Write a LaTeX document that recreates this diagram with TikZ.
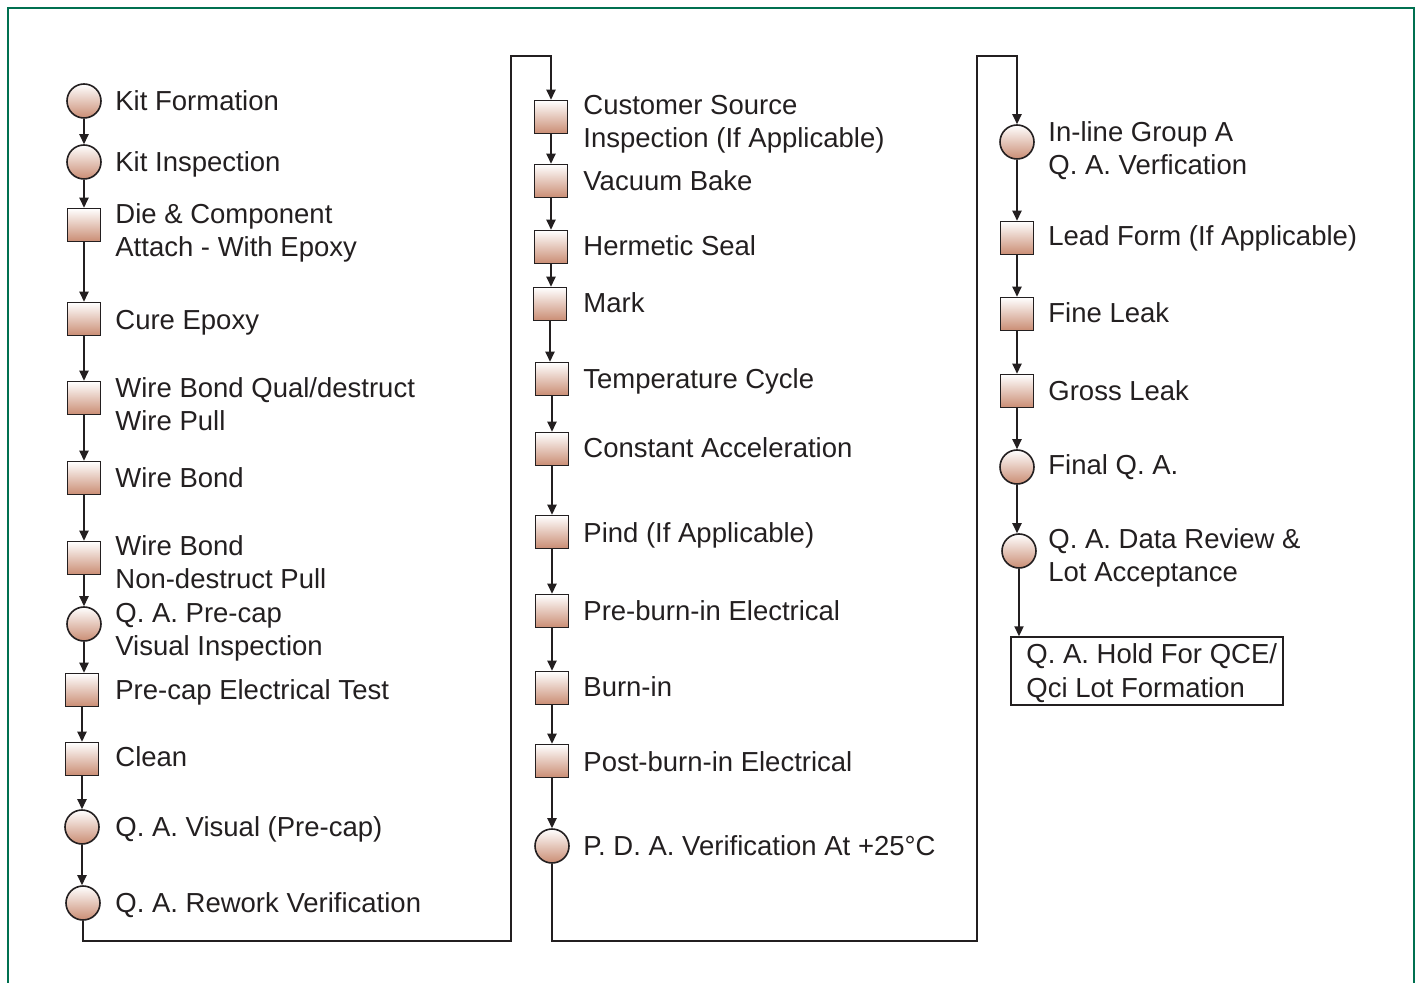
\documentclass[tikz,border=0pt]{standalone}
\usepackage{fontspec}
\setmainfont{Liberation Sans}
\usetikzlibrary{arrows.meta}
\definecolor{framegreen}{RGB}{0,112,80}
\definecolor{shadetan}{RGB}{196,128,100}
\definecolor{ink}{RGB}{35,31,32}
\begin{document}
\begin{tikzpicture}[x=0.5pt,y=-0.5pt,
  shp/.style={draw=ink, line width=0.8pt, shading angle=45, top color=white, middle color=shadetan!22, bottom color=shadetan!90, inner sep=0pt},
  circ/.style={shp, circle, minimum size=17pt},
  sq/.style={shp, rectangle, minimum size=16.5pt},
  lbl/.style={anchor=west, inner sep=0pt, align=left, text=ink, text depth=0pt,
    font=\fontsize{13.75pt}{16.5pt}\selectfont},
  conn/.style={draw=ink, line width=0.75pt, -{Triangle[length=5pt,width=4.6pt]}},
]
\useasboundingbox (0,0) rectangle (1423,983);
\draw[framegreen, line width=1pt] (8,983) -- (8,8) -- (1414,8) -- (1414,983);

% column 1
\node[circ] (a1) at (84,101) {};  \node[lbl] (la1) at (115,101) {Kit Formation};
\node[circ] (a2) at (84,162) {};  \node[lbl] (la2) at (115,162) {Kit Inspection};
\node[sq] (a3) at (84,225) {};    \node[lbl] (la3) at (115,230.5) {Die \& Component\\Attach - With Epoxy};
\node[sq] (a4) at (84,319) {};    \node[lbl] (la4) at (115,320) {Cure Epoxy};
\node[sq] (a5) at (84,398) {};    \node[lbl] (la5) at (115,404.5) {Wire Bond Qual/destruct\\Wire Pull};
\node[sq] (a6) at (84,478) {};    \node[lbl] (la6) at (115,478) {Wire Bond};
\node[sq] (a7) at (84,558) {};    \node[lbl] (la7) at (115,562.5) {Wire Bond\\Non-destruct Pull};
\node[circ] (a8) at (84,624) {};  \node[lbl] (la8) at (115,629.5) {Q. A. Pre-cap\\Visual Inspection};
\node[sq] (a9) at (82,690) {};    \node[lbl] (la9) at (115,690) {Pre-cap Electrical Test};
\node[sq] (a10) at (82,759) {};   \node[lbl] (la10) at (115,757) {Clean};
\node[circ] (a11) at (82,827) {}; \node[lbl] (la11) at (115,827) {Q. A. Visual (Pre-cap)};
\node[circ] (a12) at (83,903) {}; \node[lbl] (la12) at (115,903) {Q. A. Rework Verification};

% column 2
\node[sq] (b1) at (551,117) {};   \node[lbl] (lb1) at (583,121.5) {Customer Source\\Inspection (If Applicable)};
\node[sq] (b2) at (551,181) {};   \node[lbl] (lb2) at (583,181) {Vacuum Bake};
\node[sq] (b3) at (551,247) {};   \node[lbl] (lb3) at (583,246) {Hermetic Seal};
\node[sq] (b4) at (550,304) {};   \node[lbl] (lb4) at (583,303) {Mark};
\node[sq] (b5) at (552,379) {};   \node[lbl] (lb5) at (583,379) {Temperature Cycle};
\node[sq] (b6) at (552,449) {};   \node[lbl] (lb6) at (583,448) {Constant Acceleration};
\node[sq] (b7) at (552,532) {};   \node[lbl] (lb7) at (583,533) {Pind (If Applicable)};
\node[sq] (b8) at (552,611) {};   \node[lbl] (lb8) at (583,611) {Pre-burn-in Electrical};
\node[sq] (b9) at (552,688) {};   \node[lbl] (lb9) at (583,687) {Burn-in};
\node[sq] (b10) at (552,761) {};  \node[lbl] (lb10) at (583,762) {Post-burn-in Electrical};
\node[circ] (b11) at (552,846) {};\node[lbl] (lb11) at (583,846) {P. D. A. Verification At +25°C};

% column 3
\node[circ] (c1) at (1017,142) {};  \node[lbl] (lc1) at (1048,148.5) {In-line Group A\\Q. A. Verfication};
\node[sq] (c2) at (1017,238) {};    \node[lbl] (lc2) at (1048,236) {Lead Form (If Applicable)};
\node[sq] (c3) at (1017,314) {};    \node[lbl] (lc3) at (1048,313) {Fine Leak};
\node[sq] (c4) at (1017,391) {};    \node[lbl] (lc4) at (1048,391) {Gross Leak};
\node[circ] (c5) at (1017,467) {};  \node[lbl] (lc5) at (1048,465) {Final Q. A.};
\node[circ] (c6) at (1019,551) {};  \node[lbl] (lc6) at (1048,555.5) {Q. A. Data Review \&\\Lot Acceptance};
\node[draw=ink, line width=0.75pt, inner sep=0pt, minimum width=136pt, minimum height=34pt] (box) at (1147,671) {};
\node[lbl, font=\fontsize{13.75pt}{17pt}\selectfont] (lbox) at (1026,671) {Q. A. Hold For QCE/\\Qci Lot Formation};

% connectors column 1
\foreach \u/\v in {a1/a2,a2/a3,a3/a4,a4/a5,a5/a6,a6/a7,a7/a8,a8/a9,a9/a10,a10/a11,a11/a12}
  \draw[conn] (\u.south) -- (\u.south |- \v.north);
% connectors column 2
\foreach \u/\v in {b1/b2,b2/b3,b3/b4,b4/b5,b5/b6,b6/b7,b7/b8,b8/b9,b9/b10,b10/b11}
  \draw[conn] (\u.south) -- (\u.south |- \v.north);
% connectors column 3
\foreach \u/\v in {c1/c2,c2/c3,c3/c4,c4/c5,c5/c6}
  \draw[conn] (\u.south) -- (\u.south |- \v.north);
\draw[conn] (c6.south) -- (c6.south |- box.north);

% links between columns
\coordinate (k1) at (511,941);
\coordinate (k2) at (511,56);
\coordinate (k3) at (977,941);
\coordinate (k4) at (977,56);
\draw[conn] (a12.south) |- (k1) -- (k2) -| (b1.north);
\draw[conn] (b11.south) |- (k3) -- (k4) -| (c1.north);
\end{tikzpicture}
\end{document}
